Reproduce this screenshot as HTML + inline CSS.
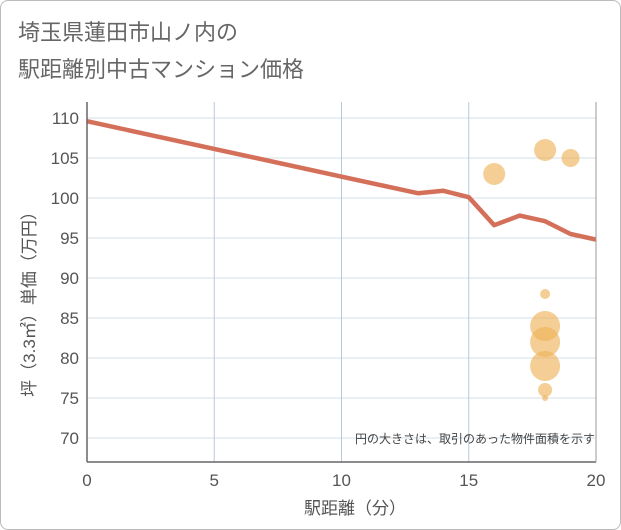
<!DOCTYPE html>
<html><head><meta charset="utf-8"><style>
body{margin:0;background:#fff;font-family:"Liberation Sans","Noto Sans CJK JP",sans-serif}
#wrap{position:relative;width:619px;height:528px;border:1px solid #bbb;border-radius:8px;overflow:hidden}
</style></head><body>
<div id="wrap">
<svg id="c" width="621" height="530" style="position:absolute;left:-1px;top:-1px">
<text x="18" y="40" font-size="22" fill="#666">埼玉県蓮田市山ノ内の</text>
<text x="18" y="77" font-size="22" fill="#666">駅距離別中古マンション価格</text>
<g id="grid"></g><g id="marks"></g><g id="axes"></g>
<text x="595" y="443" font-size="12" fill="#444" text-anchor="end">円の大きさは、取引のあった物件面積を示す</text>
<text x="355" y="514" font-size="17" fill="#555" text-anchor="middle">駅距離（分）</text>
<text transform="translate(35,300) rotate(-90)" font-size="17" fill="#555" text-anchor="middle">坪（3.3㎡）単価（万円）</text>
</svg></div>
<script>
const xTicks=[0,5,10,15,20];
const yTicks=[70,75,80,85,90,95,100,105,110];
const lineX=[0,13,14,15,16,17,18,19,20];
const lineY=[109.6,100.6,100.9,100.1,96.6,97.8,97.1,95.5,94.8];
const bubX=[16,18,19,18,18,18,18,18,18];
const bubY=[103,106,105,88,84,82,79,76,75];
const bubR=[11,11,9,5,15,15,15,7,3];
const X0=87,X1=596,Y0=462,Y1=102,xmin=0,xmax=20,ymin=67,ymax=112;
const sx=v=>X0+(v-xmin)/(xmax-xmin)*(X1-X0);
const sy=v=>Y0-(v-ymin)/(ymax-ymin)*(Y0-Y1);
const NS="http://www.w3.org/2000/svg";
function mk(p,t,a){const e=document.createElementNS(NS,t);for(const k in a)e.setAttribute(k,a[k]);document.getElementById(p).appendChild(e);return e;}
yTicks.forEach(v=>{
 const l=mk('grid','line',{x1:X0,x2:X1,y1:sy(v),y2:sy(v),stroke:'#d5dfea','stroke-width':1});
 
 
 const t=mk('axes','text',{x:X0-8,y:sy(v)+6,'font-size':17,fill:'#555','text-anchor':'end'});t.textContent=v;
 
 
});
xTicks.forEach(v=>{
 if(v>0&&v<20){const l=mk('grid','line',{x1:sx(v),x2:sx(v),y1:Y1,y2:Y0,stroke:'#b8c8da','stroke-width':1});
 
 }
 const t=mk('axes','text',{x:sx(v),y:Y0+24,'font-size':17,fill:'#555','text-anchor':'middle'});t.textContent=v;
 
 
});
let a=mk('axes','line',{x1:X0,x2:X0,y1:Y1,y2:Y0,stroke:'#666','stroke-width':1.5});


a=mk('axes','line',{x1:X0,x2:X1,y1:Y0,y2:Y0,stroke:'#666','stroke-width':1.5});


a=mk('axes','line',{x1:X1,x2:X1,y1:Y1,y2:Y0,stroke:'#999','stroke-width':1});


const pl=mk('marks','polyline',{points:lineX.map((x,i)=>sx(x)+','+sy(lineY[i])).join(' '),fill:'none',stroke:'#d4705a','stroke-width':4.5,'stroke-linejoin':'round'});


bubX.forEach((x,i)=>{
 const c=mk('marks','circle',{cx:sx(x),cy:sy(bubY[i]),r:bubR[i],fill:'rgba(238,180,90,0.65)'});
 
 
});
</script>
</body></html>
